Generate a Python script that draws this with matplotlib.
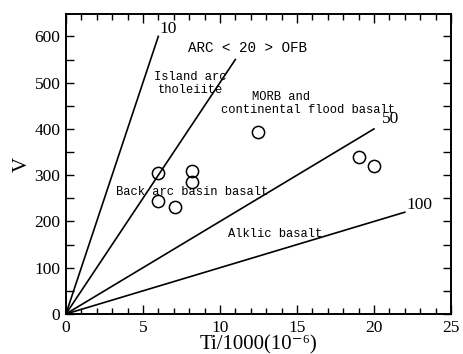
import matplotlib
matplotlib.use('Agg')
import matplotlib.pyplot as plt
from matplotlib.ticker import MultipleLocator

# Ti/V boundary ratios and the Ti/1000 value where each line stops
ratios = [10, 20, 50, 100]
ratio_ends = [6, 11, 20, 22]
ratio_label_pos = [(6.1, 615), None, (20.5, 421), (22.1, 235)]

# sample analyses
ti = [6.0, 8.2, 8.2, 6.0, 7.1, 12.5, 19.0, 20.0]
v = [305, 309, 285, 244, 231, 393, 339, 320]

# field names
fields = [
    ("ARC < 20 > OFB", 11.8, 574, 10.3),
    ("Island arc", 8.1, 512, 8.7),
    ("tholeiite", 8.1, 485, 8.7),
    ("MORB and", 13.96, 469, 8.7),
    ("continental flood basalt", 15.7, 440, 8.7),
    ("Back arc basin basalt", 8.18, 263, 8.7),
    ("Alklic basalt", 13.6, 173, 8.7),
]

serif = ['Liberation Serif', 'DejaVu Serif']
mono = 'Liberation Mono'

fig = plt.figure(figsize=(4.64, 3.54), dpi=100)
ax = fig.add_axes([0.142, 0.113, 0.830, 0.847])

for r, end, pos in zip(ratios, ratio_ends, ratio_label_pos):
    ax.plot([0, end], [0, end * 1000 / r], color='black', lw=1.2)
    if pos is not None:
        ax.text(pos[0], pos[1], str(r), family=serif, fontsize=12.5,
                ha='left', va='center')

ax.plot(ti, v, 'o', ms=8.8, mfc='none', mec='black', mew=1.1)

for txt, x, y, fs in fields:
    ax.text(x, y, txt, family=mono, fontsize=fs, ha='center', va='center')

ax.set_xlim(0, 25)
ax.set_ylim(0, 648)
ax.xaxis.set_major_locator(MultipleLocator(5))
ax.xaxis.set_minor_locator(MultipleLocator(1))
ax.yaxis.set_major_locator(MultipleLocator(100))
ax.yaxis.set_minor_locator(MultipleLocator(50))
ax.tick_params(which='both', direction='in', top=True, right=True,
               width=1.0, labelsize=12.5, pad=4)
ax.tick_params(axis='x', which='major', length=6.5)
ax.tick_params(axis='x', which='minor', length=4)
ax.tick_params(axis='y', which='both', length=5.5)
for lab in ax.get_xticklabels() + ax.get_yticklabels():
    lab.set_family(serif)
for s in ax.spines.values():
    s.set_linewidth(1.4)

ax.set_xlabel('Ti/1000(10\u207b\u2076)', family=serif, fontsize=15, labelpad=0)
ax.set_ylabel('V', family=serif, fontsize=15, labelpad=2)

fig.savefig('out.png', dpi=100)
